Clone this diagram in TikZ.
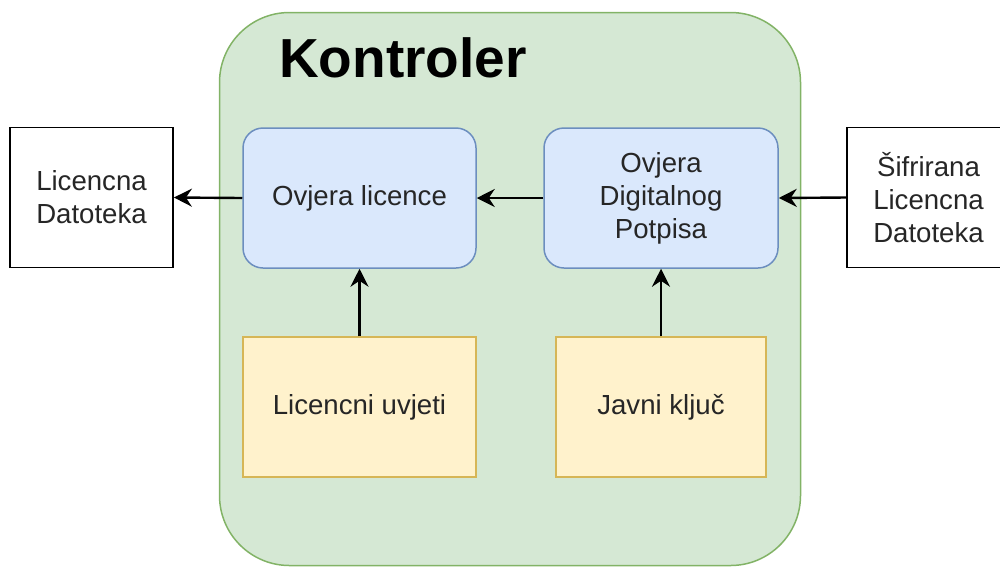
\documentclass[tikz,border=0pt]{standalone}
\usepackage{fontspec}
\setmainfont{Liberation Sans}
\usetikzlibrary{arrows.meta}
\definecolor{gfill}{HTML}{D5E8D4}
\definecolor{gline}{HTML}{82B366}
\definecolor{bfill}{HTML}{DAE8FC}
\definecolor{bline}{HTML}{6C8EBF}
\definecolor{yfill}{HTML}{FFF2CC}
\definecolor{yline}{HTML}{D6B656}
\begin{document}
\begin{tikzpicture}[x=1pt,y=-1pt,
  txt/.style={font=\fontsize{27.6}{33}\selectfont, align=center, text=black!85},
  plainbox/.style={txt, draw=black, fill=white, line width=1.8pt, minimum width=163pt, minimum height=140pt, inner sep=0pt},
  bluebox/.style={txt, draw=bline, fill=bfill, line width=1.5pt, rounded corners=20pt, minimum width=233pt, minimum height=140pt, inner sep=0pt},
  yelbox/.style={txt, draw=yline, fill=yfill, line width=1.5pt, minimum height=140pt, inner sep=0pt},
  arr/.style={-{Stealth[length=18pt,width=18pt,inset=6pt]}, line width=2.4pt}]
\useasboundingbox (0,0) rectangle (1000,566);
\node[draw=gline, fill=gfill, line width=1.5pt, rounded corners=70pt, minimum width=581pt, minimum height=553pt, inner sep=0pt] (ctrl) at (510,289) {};
\node[font=\fontsize{55}{60}\selectfont\bfseries, inner sep=0pt] (title) at (403,58) {Kontroler};
\node[bluebox] (OL) at (359.5,198) {Ovjera licence};
\node[bluebox, minimum width=234pt] (DP) at (661,198) {Ovjera\\Digitalnog\\Potpisa};
\node[yelbox, minimum width=233pt] (LU) at (359.5,407) {Licencni uvjeti};
\node[yelbox, minimum width=210pt] (JK) at (661,407) {Javni ključ};
\node[plainbox] (LD) at (91.5,197.5) {Licencna\\Datoteka};
\node[plainbox] (SLD) at (928.5,197.5) {Šifrirana\\Licencna\\Datoteka};
\draw[arr] (OL.west) -- (LD.east);
\draw[arr] (DP.west) -- (OL.east);
\draw[arr] (SLD.west) -- (DP.east);
\draw[arr] (LU.north) -- (OL.south);
\draw[arr] (JK.north) -- (DP.south);
\end{tikzpicture}
\end{document}
